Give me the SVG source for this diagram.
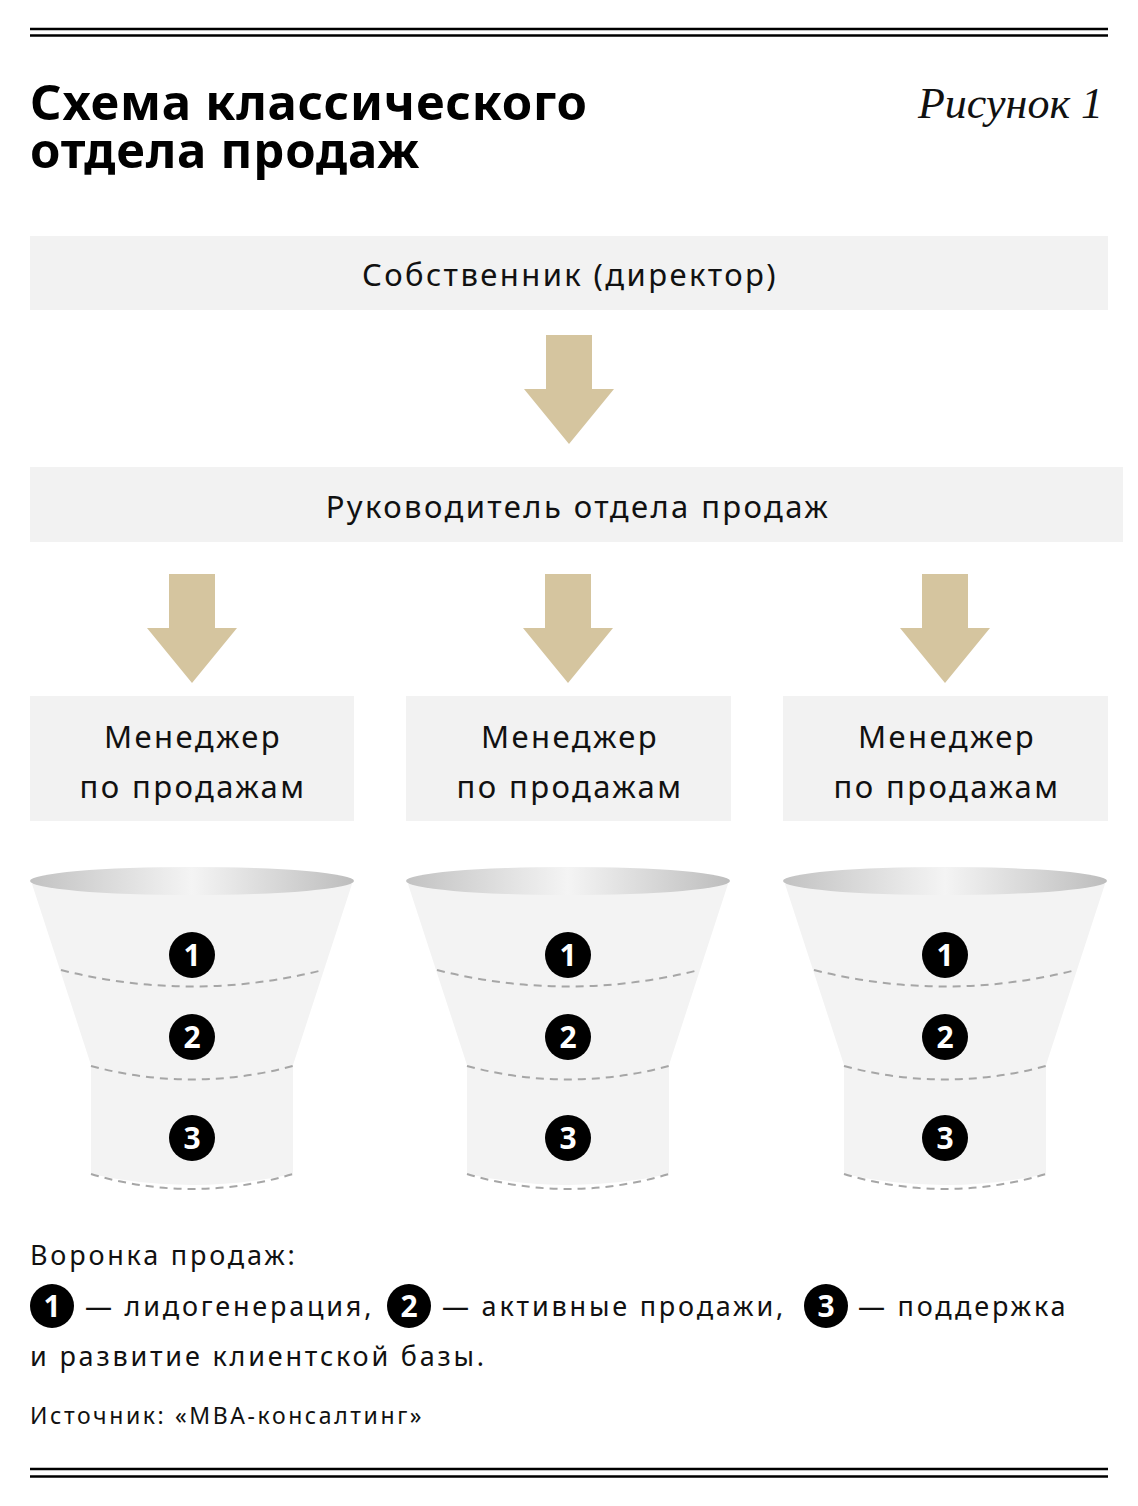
<svg xmlns="http://www.w3.org/2000/svg" width="1138" height="1506" viewBox="0 0 1138 1506">
<style>
.rule{stroke:#000;stroke-width:2.5}
.box{fill:#f2f2f2}
.arrow{fill:#d5c59f}
.t{font-family:"Noto Sans","Open Sans",sans-serif;fill:#111}
.lbl{font-size:31px;text-anchor:middle;letter-spacing:2.4px}
.body{font-size:27px;letter-spacing:2.8px}
.src{font-size:23px;letter-spacing:2.6px}
.title{font-family:"Noto Sans","Open Sans",sans-serif;font-weight:bold;font-size:49px;fill:#000;letter-spacing:0.8px}
.fig{font-family:"Liberation Serif",serif;font-style:italic;font-size:44px;fill:#111}
.fbody{fill:#f3f3f3}
.dash{fill:none;stroke:#a6a6a6;stroke-width:2;stroke-dasharray:8 6}
.num{fill:#000}
.numt{font-family:"Noto Sans","Open Sans",sans-serif;font-weight:bold;font-size:30px;fill:#fff;text-anchor:middle}
</style>
<defs>
<linearGradient id="rim" x1="0" y1="0" x2="1" y2="0">
<stop offset="0" stop-color="#c2c2c2"/>
<stop offset="0.5" stop-color="#f4f4f4"/>
<stop offset="1" stop-color="#bdbdbd"/>
</linearGradient>
<g id="funnel">
<path class="fbody" d="M32,884 L91,1065 L91,1174 Q192,1196 293,1174 L293,1065 L352,884 Z"/>
<ellipse cx="192" cy="881" rx="162" ry="14" fill="url(#rim)"/>
<path class="dash" d="M61,970 Q192,1003 323,970"/>
<path class="dash" d="M91,1066 Q192,1093 293,1066"/>
<path class="dash" d="M91,1174 Q192,1204 293,1174"/>
<circle class="num" cx="192" cy="955" r="23"/>
<text class="numt" x="192" y="966">1</text>
<circle class="num" cx="192" cy="1037" r="23"/>
<text class="numt" x="192" y="1048">2</text>
<circle class="num" cx="192" cy="1138" r="23"/>
<text class="numt" x="192" y="1149">3</text>
</g>
<polygon id="arr" points="-23,0 23,0 23,54 45,54 0,109 -45,54 -23,54"/>
</defs>

<line class="rule" x1="30" y1="29" x2="1108" y2="29"/>
<line class="rule" x1="30" y1="35.5" x2="1108" y2="35.5"/>

<text class="title" x="30" y="120">Схема классического</text>
<text class="title" x="30" y="168">отдела продаж</text>
<text class="fig" x="1103" y="118" text-anchor="end">Рисунок 1</text>

<g id="owner">
<rect class="box" x="30" y="236" width="1078" height="74"/>
<text class="t lbl" x="570" y="286">Собственник (директор)</text>
</g>

<g id="head">
<rect class="box" x="30" y="467" width="1093" height="75"/>
<text class="t lbl" x="578" y="518">Руководитель отдела продаж</text>
</g>

<g id="manager1">
<rect class="box" x="30" y="696" width="324" height="125"/>
<text class="t lbl" x="193" y="748">Менеджер</text>
<text class="t lbl" x="193" y="798">по продажам</text>
</g>
<g id="manager2">
<rect class="box" x="406" y="696" width="325" height="125"/>
<text class="t lbl" x="570" y="748">Менеджер</text>
<text class="t lbl" x="570" y="798">по продажам</text>
</g>
<g id="manager3">
<rect class="box" x="783" y="696" width="325" height="125"/>
<text class="t lbl" x="947" y="748">Менеджер</text>
<text class="t lbl" x="947" y="798">по продажам</text>
</g>

<g id="connectors">
<use href="#arr" class="arrow" x="569" y="335"/>
<use href="#arr" class="arrow" x="192" y="574"/>
<use href="#arr" class="arrow" x="568" y="574"/>
<use href="#arr" class="arrow" x="945" y="574"/>
</g>

<g id="funnel1"><use href="#funnel"/></g>
<g id="funnel2"><use href="#funnel" x="376"/></g>
<g id="funnel3"><use href="#funnel" x="753"/></g>

<g id="legend">
<text class="t body" x="30" y="1265">Воронка продаж:</text>
<circle class="num" cx="52" cy="1306" r="22"/>
<text class="numt" x="52" y="1317">1</text>
<text class="t body" x="85" y="1316">— лидогенерация,</text>
<circle class="num" cx="409" cy="1306" r="22"/>
<text class="numt" x="409" y="1317">2</text>
<text class="t body" x="442" y="1316">— активные продажи,</text>
<circle class="num" cx="826" cy="1306" r="22"/>
<text class="numt" x="826" y="1317">3</text>
<text class="t body" x="858" y="1316">— поддержка</text>
<text class="t body" x="30" y="1366">и развитие клиентской базы.</text>
<text class="t src" x="30" y="1424">Источник: «МВА-консалтинг»</text>
</g>

<line class="rule" x1="30" y1="1469" x2="1108" y2="1469"/>
<line class="rule" x1="30" y1="1476.5" x2="1108" y2="1476.5"/>
</svg>
